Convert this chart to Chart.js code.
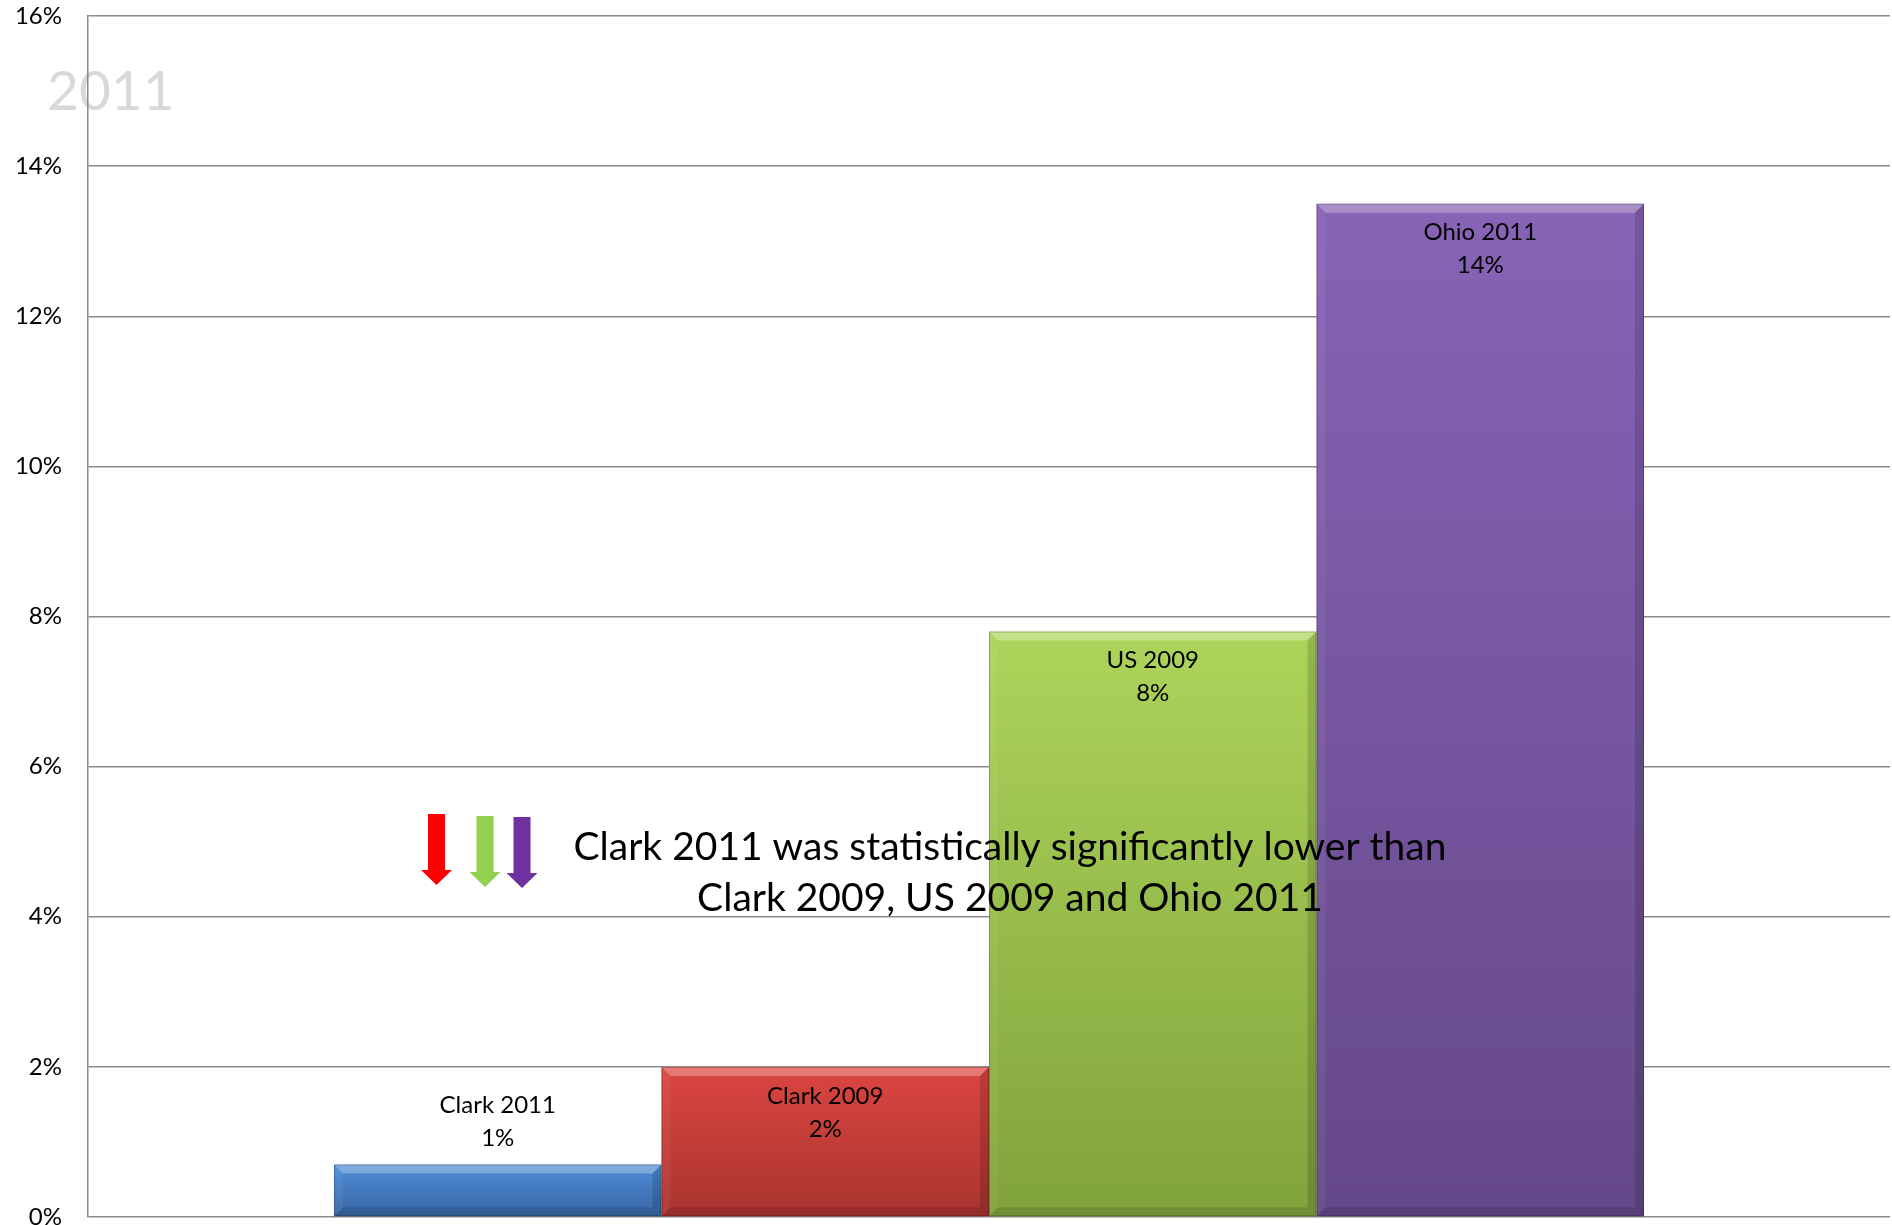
<!DOCTYPE html>
<html>
<head>
<meta charset="utf-8">
<script src="https://cdn.jsdelivr.net/npm/chart.js@4/dist/chart.umd.min.js"></script>
<style>
  html, body { margin: 0; padding: 0; background: #fff; }
  canvas { display: block; }
</style>
</head>
<body>
<canvas id="c" width="1892" height="1225"></canvas>
<script>
// ---- data ----
const categories = ['Clark 2011', 'Clark 2009', 'US 2009', 'Ohio 2011'];
const values = [0.7, 2.0, 7.8, 13.5];
const valueLabels = ['1%', '2%', '8%', '14%'];
const yTicks = [0, 2, 4, 6, 8, 10, 12, 14, 16];
const watermark = '2011';
const noteLines = ['Clark 2011 was statistically significantly lower than', 'Clark 2009, US 2009 and Ohio 2011'];

// ---- styles ----
const barTop = ['#4f8dd6', '#dc4540', '#add45a', '#8764b6'];
const barBottom = ['#3766a6', '#a93430', '#80a33c', '#654889'];
const arrowColors = ['#ff0000', '#92d050', '#7030a0'];
const FONT = 'Lato, "Open Sans", sans-serif';

const datasets = categories.map((name, i) => ({
  label: name,
  data: [values[i]],
  backgroundColor: (ctx) => {
    const chart = ctx.chart;
    const ys = chart.scales.y;
    if (!ys || !chart.chartArea) return barTop[i];
    const top = ys.getPixelForValue(values[i]);
    const bot = ys.getPixelForValue(0);
    const g = chart.ctx.createLinearGradient(0, top, 0, bot);
    g.addColorStop(0, barTop[i]);
    g.addColorStop(1, barBottom[i]);
    return g;
  },
  borderWidth: 0,
  categoryPercentage: 0.727,
  barPercentage: 1.0
}));

const decorPlugin = {
  id: 'decor',
  beforeDraw(chart) {
    const ctx = chart.ctx;
    ctx.save();
    ctx.fillStyle = '#fff';
    ctx.fillRect(0, 0, chart.width, chart.height);
    ctx.fillStyle = '#d9d9d9';
    ctx.font = '55px ' + FONT;
    ctx.textAlign = 'left';
    ctx.textBaseline = 'middle';
    ctx.fillText(watermark, 47, 92);
    ctx.restore();
  },
  afterDatasetsDraw(chart) {
    const ctx = chart.ctx;
    ctx.save();
    chart.data.datasets.forEach((ds, i) => {
      const meta = chart.getDatasetMeta(i);
      meta.data.forEach((bar) => {
        const l = bar.x - bar.width / 2, r = bar.x + bar.width / 2;
        const t = bar.y, b = bar.base;
        const bev = Math.min(9, (b - t) / 2);
        ctx.fillStyle = 'rgba(255,255,255,0.28)';
        ctx.beginPath();
        ctx.moveTo(l, t); ctx.lineTo(r, t); ctx.lineTo(r - bev, t + bev); ctx.lineTo(l + bev, t + bev); ctx.closePath(); ctx.fill();
        ctx.fillStyle = 'rgba(255,255,255,0.05)';
        ctx.beginPath();
        ctx.moveTo(l, t); ctx.lineTo(l + bev, t + bev); ctx.lineTo(l + bev, b - bev); ctx.lineTo(l, b); ctx.closePath(); ctx.fill();
        ctx.fillStyle = 'rgba(0,0,0,0.14)';
        ctx.beginPath();
        ctx.moveTo(r, t); ctx.lineTo(r, b); ctx.lineTo(r - bev, b - bev); ctx.lineTo(r - bev, t + bev); ctx.closePath(); ctx.fill();
        ctx.fillStyle = 'rgba(0,0,0,0.12)';
        ctx.beginPath();
        ctx.moveTo(l, b); ctx.lineTo(r, b); ctx.lineTo(r - bev, b - bev); ctx.lineTo(l + bev, b - bev); ctx.closePath(); ctx.fill();
        ctx.strokeStyle = 'rgba(0,0,0,0.22)';
        ctx.lineWidth = 1;
        ctx.strokeRect(l + 0.5, t + 0.5, r - l - 1, b - t - 1);
      });
    });
    ctx.fillStyle = '#000';
    ctx.font = '24px ' + FONT;
    ctx.textAlign = 'center';
    ctx.textBaseline = 'middle';
    chart.data.datasets.forEach((ds, i) => {
      const bar = chart.getDatasetMeta(i).data[0];
      const h = bar.base - bar.y;
      let y1, y2;
      if (h > 80) { y1 = bar.y + 29; y2 = bar.y + 62; }
      else { y2 = bar.y - 26; y1 = bar.y - 59; }
      ctx.fillText(categories[i], bar.x, y1);
      ctx.fillText(valueLabels[i], bar.x, y2);
    });
    ctx.restore();
  },
  afterDraw(chart) {
    const ctx = chart.ctx;
    ctx.save();
    const arrows = [
      { cx: 436.5, top: 814, headTop: 870, tip: 885 },
      { cx: 485, top: 816, headTop: 872, tip: 887 },
      { cx: 522, top: 817, headTop: 873, tip: 888 }
    ];
    arrows.forEach((a, i) => {
      const sw = 8.5, hw = 15.5;
      ctx.fillStyle = arrowColors[i];
      ctx.beginPath();
      ctx.moveTo(a.cx - sw, a.top);
      ctx.lineTo(a.cx + sw, a.top);
      ctx.lineTo(a.cx + sw, a.headTop);
      ctx.lineTo(a.cx + hw, a.headTop);
      ctx.lineTo(a.cx, a.tip);
      ctx.lineTo(a.cx - hw, a.headTop);
      ctx.lineTo(a.cx - sw, a.headTop);
      ctx.closePath();
      ctx.fill();
    });
    ctx.fillStyle = '#000';
    ctx.font = '39px ' + FONT;
    ctx.textAlign = 'center';
    ctx.textBaseline = 'middle';
    ctx.fillText(noteLines[0], 1010, 847);
    ctx.fillText(noteLines[1], 1010, 898);
    ctx.restore();
  }
};

new Chart(document.getElementById('c'), {
  type: 'bar',
  data: { labels: [''], datasets },
  options: {
    responsive: false,
    animation: false,
    devicePixelRatio: 1,
    layout: { padding: { top: 16, bottom: 8, left: 0, right: 2 } },
    plugins: { legend: { display: false }, tooltip: { enabled: false } },
    scales: {
      x: { display: false, offset: true },
      y: {
        min: yTicks[0],
        max: yTicks[yTicks.length - 1],
        afterBuildTicks: (scale) => { scale.ticks = yTicks.map(v => ({ value: v })); },
        afterFit: (scale) => { scale.width = 88; scale.paddingTop = 0; scale.paddingBottom = 0; },
        ticks: {
          callback: (v) => v + '%',
          color: '#000',
          font: { family: FONT, size: 24 },
          padding: 26
        },
        grid: { color: '#8a8a8a', lineWidth: 1.5, drawTicks: false },
        border: { display: true, color: '#8a8a8a', width: 1.5 }
      }
    }
  },
  plugins: [decorPlugin]
});
</script>
</body>
</html>
